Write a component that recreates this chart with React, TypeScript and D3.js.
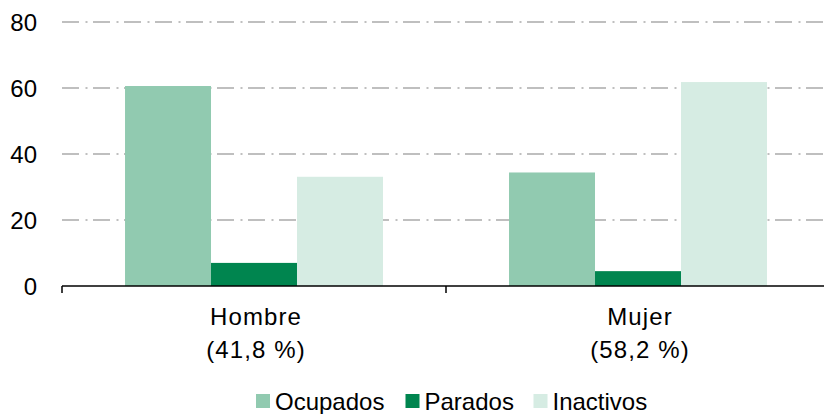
import React from 'react';
import * as d3 from 'd3';

const categories = ['Hombre', 'Mujer'];
const categoryShares = ['(41,8 %)', '(58,2 %)'];
const series = ['Ocupados', 'Parados', 'Inactivos'];
const ocupados = [60.6, 34.4];
const parados = [7.0, 4.5];
const inactivos = [33.1, 61.8];
const yTicks = [0, 20, 40, 60, 80];

const colors = ['#91cab0', '#00854f', '#d6ece3'];

const W = 824;
const H = 414;
const left = 62;
const right = 830;
const top = 22;
const bottom = 286;
const font = '"Liberation Sans", Arial, sans-serif';

export default function App() {
  const values = [ocupados, parados, inactivos];

  const x = d3.scaleBand<string>().domain(categories).range([left, right]);
  const xInner = d3
    .scaleBand<string>()
    .domain(series)
    .range([0, x.bandwidth()])
    .paddingInner(0)
    .paddingOuter(0.733);
  const y = d3.scaleLinear().domain([0, 80]).range([bottom, top]);

  const legendX = [256, 405.5, 533.5];

  return (
    <div style={{ position: 'absolute', left: 0, top: 0 }}>
      <svg width={W} height={H} style={{ display: 'block', background: '#fff' }}>
        {/* grid */}
        {yTicks.filter(t => t > 0).map(t => (
          <line
            key={t}
            x1={left}
            x2={W}
            y1={y(t)}
            y2={y(t)}
            stroke="#bfbfbf"
            strokeWidth={2}
            strokeDasharray="17,6.5,2,5.5"
          />
        ))}

        {/* bars */}
        {categories.map((c, ci) => (
          <g key={c} transform={`translate(${x(c)},0)`}>
            {series.map((s, si) => (
              <rect
                key={s}
                x={xInner(s)}
                y={y(values[si][ci])}
                width={xInner.bandwidth()}
                height={y(0) - y(values[si][ci])}
                fill={colors[si]}
              />
            ))}
          </g>
        ))}

        {/* x axis */}
        <line x1={left} x2={W} y1={bottom} y2={bottom} stroke="#000" strokeWidth={1.5} />
        {[...categories.map(c => x(c) as number), right].map((tx, i) => (
          <line key={i} x1={tx} x2={tx} y1={bottom} y2={bottom + 7} stroke="#000" strokeWidth={1.5} />
        ))}

        {/* y labels */}
        {yTicks.map(t => (
          <text
            key={t}
            x={37}
            y={y(t)}
            dy="0.36em"
            textAnchor="end"
            fontFamily={font}
            fontSize={24}
            fill="#000"
          >
            {t}
          </text>
        ))}

        {/* category labels */}
        {categories.map((c, ci) => {
          const cx = (x(c) as number) + x.bandwidth() / 2 + 2;
          return (
            <text
              key={c}
              x={cx}
              textAnchor="middle"
              fontFamily={font}
              fontSize={24}
              letterSpacing={1.1}
              fill="#000"
            >
              <tspan x={cx} y={325}>{c}</tspan>
              <tspan x={cx} y={358}>{categoryShares[ci]}</tspan>
            </text>
          );
        })}

        {/* legend */}
        {series.map((s, si) => (
          <g key={s}>
            <rect x={legendX[si]} y={394} width={14} height={14} fill={colors[si]} />
            <text x={legendX[si] + 19} y={410} fontFamily={font} fontSize={24} fill="#000">
              {s}
            </text>
          </g>
        ))}
      </svg>
    </div>
  );
}
